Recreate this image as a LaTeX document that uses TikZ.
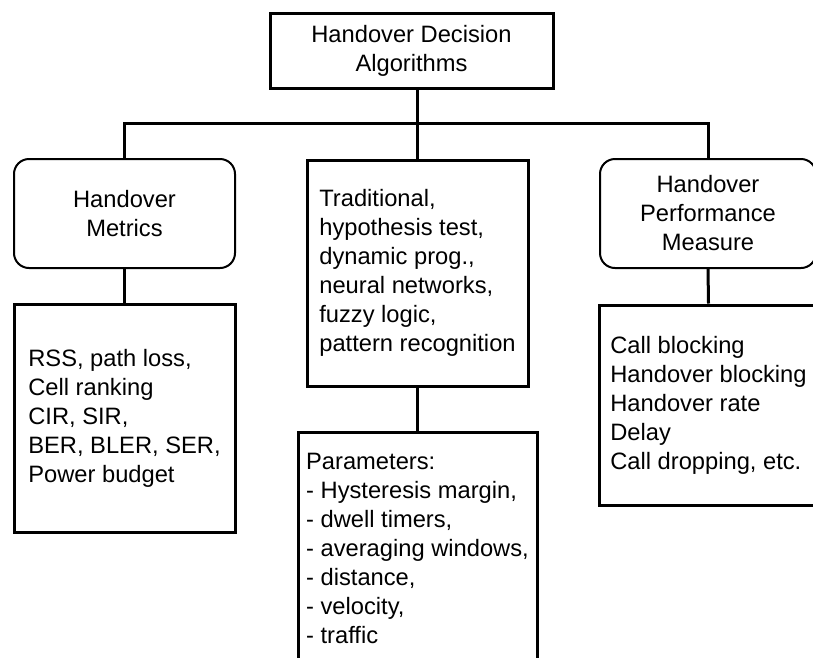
\documentclass[tikz,border=0pt]{standalone}
\usepackage{fontspec}
\setmainfont{Liberation Sans}
\begin{document}
\begin{tikzpicture}[x=1pt, y=-1pt,
        every node/.style={font=\fontsize{23.7}{29}\selectfont, inner sep=0pt},
        plainbox/.style={draw, line width=3pt, align=left},
        roundbox/.style={draw, line width=2pt, rounded corners=15pt, align=center},
        link/.style={line width=3pt}]
        \clip (0, 0) rectangle (813, 657);
        \node [plainbox, align=center, minimum width=283pt, minimum height=75pt] (algo) at (411.5, 50.5) {Handover Decision\\Algorithms};
        \node [roundbox, minimum width=221pt, minimum height=109pt] (metrics) at (124.5, 213.5) {Handover\\Metrics};
        \node [plainbox, minimum width=221pt, minimum height=226pt] (methods) at (417.5, 273) {Traditional,\\hypothesis test,\\dynamic prog.,\\neural networks,\\fuzzy logic,\\pattern recognition};
        \node [roundbox, minimum width=216pt, minimum height=109pt] (perf) at (708, 213.5) {Handover\\Performance\\Measure};
        \node [plainbox, minimum width=221pt, minimum height=228pt] (metriclist) at (124.5, 418) {RSS, path loss,\\Cell ranking\\CIR, SIR,\\BER, BLER, SER,\\Power budget};
        \node [plainbox, minimum width=239pt, minimum height=233pt] (params) at (417.5, 548.5) {Parameters:\\- Hysteresis margin,\\- dwell timers,\\- averaging windows,\\- distance,\\- velocity,\\- traffic};
        \node [plainbox, minimum width=219pt, minimum height=200pt] (perflist) at (708.5, 405) {Call blocking\\Handover blocking\\Handover rate\\Delay\\Call dropping, etc.};
        \coordinate (bus) at (417.5, 123);
        % tree connectors
        \draw [link] (algo.south -| methods.north) -- (methods.north);
        \draw [link] (metrics.north) -- (metrics.north |- bus) -- (perf.north |- bus) -- (perf.north);
        \draw [link] (metrics.south) -- (metriclist.north);
        \draw [link] (methods.south) -- (params.north);
        \draw [link] (perf.south) -- (perflist.north);
    \end{tikzpicture}
\end{document}
